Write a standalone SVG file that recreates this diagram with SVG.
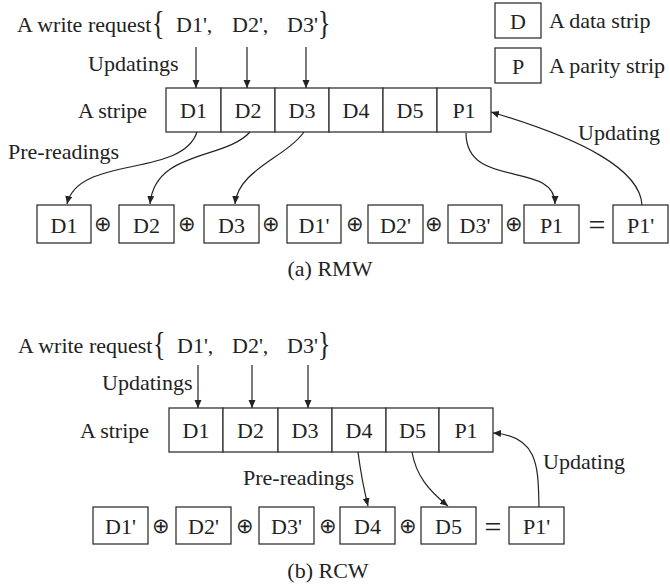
<svg xmlns="http://www.w3.org/2000/svg" width="670" height="588" viewBox="0 0 670 588">
  <style>
    text { font-family: "Liberation Serif", "Times New Roman", serif; font-size: 22px; fill: #222; }
    .c { text-anchor: middle; }
    .brace { font-size: 26px; }
    .op { font-size: 21px; text-anchor: middle; }
    .eq { font-size: 30px; text-anchor: middle; }
    .box { fill: #fff; stroke: #333; stroke-width: 1.3; }
    .wire { fill: none; stroke: #222; stroke-width: 1.2; marker-end: url(#arrow); }
  </style>
  <defs>
    <marker id="arrow" markerUnits="userSpaceOnUse" markerWidth="9" markerHeight="8" refX="8" refY="3.5" orient="auto">
      <path d="M0,0 L8,3.5 L0,7 z" fill="#222"/>
    </marker>
  </defs>

  <!-- legend -->
  <g id="legend-data">
    <rect class="box" x="495" y="3" width="46" height="35"/>
    <text class="c" x="518" y="29">D</text>
    <text x="549" y="28">A data strip</text>
  </g>
  <g id="legend-parity">
    <rect class="box" x="495" y="48" width="46" height="35"/>
    <text class="c" x="518" y="74">P</text>
    <text x="549" y="73">A parity strip</text>
  </g>

  <!-- (a) RMW -->
  <g id="a-request">
    <text x="17" y="32">A write request</text>
    <text class="brace" transform="translate(152,34) scale(1,1.3)">{</text>
    <text x="176" y="32">D1',</text>
    <text x="232" y="32">D2',</text>
    <text x="287" y="32">D3'</text>
    <text class="brace" transform="translate(318,34) scale(1,1.3)">}</text>
  </g>
  <text x="88" y="71">Updatings</text>
  <text x="78" y="118">A stripe</text>

  <g id="a-stripe">
    <rect class="box" x="166" y="88" width="55" height="44"/><text class="c" x="193.5" y="118">D1</text>
    <rect class="box" x="221" y="88" width="54" height="44"/><text class="c" x="248" y="118">D2</text>
    <rect class="box" x="275" y="88" width="54" height="44"/><text class="c" x="302" y="118">D3</text>
    <rect class="box" x="329" y="88" width="54" height="44"/><text class="c" x="356" y="118">D4</text>
    <rect class="box" x="383" y="88" width="54" height="44"/><text class="c" x="410" y="118">D5</text>
    <rect class="box" x="437" y="88" width="54" height="44"/><text class="c" x="464" y="118">P1</text>
  </g>

  <g id="a-row">
    <rect class="box" x="37" y="205" width="54" height="38"/><text class="c" x="64" y="233">D1</text>
    <text class="op" x="103" y="231">⊕</text>
    <rect class="box" x="119" y="205" width="55" height="38"/><text class="c" x="146.5" y="233">D2</text>
    <text class="op" x="187" y="231">⊕</text>
    <rect class="box" x="204" y="205" width="55" height="38"/><text class="c" x="231.5" y="233">D3</text>
    <text class="op" x="271" y="231">⊕</text>
    <rect class="box" x="287" y="205" width="54" height="38"/><text class="c" x="314" y="233">D1'</text>
    <text class="op" x="355" y="231">⊕</text>
    <rect class="box" x="368" y="205" width="55" height="38"/><text class="c" x="395.5" y="233">D2'</text>
    <text class="op" x="434" y="231">⊕</text>
    <rect class="box" x="448" y="205" width="54" height="38"/><text class="c" x="475" y="233">D3'</text>
    <text class="op" x="514" y="231">⊕</text>
    <rect class="box" x="524" y="205" width="55" height="38"/><text class="c" x="551.5" y="233">P1</text>
    <text class="eq" x="597" y="235">=</text>
    <rect class="box" x="613" y="205" width="55" height="38"/><text class="c" x="640.5" y="233">P1'</text>
  </g>
  <text x="8" y="159">Pre-readings</text>
  <text x="578" y="140">Updating</text>
  <text class="c" x="330" y="276">(a) RMW</text>

  <g id="a-connectors">
    <path class="wire" d="M196,47 L196,88"/>
    <path class="wire" d="M247,47 L247,88"/>
    <path class="wire" d="M306,47 L306,88"/>
    <path class="wire" d="M197,132 C182,178 78,155 67,204"/>
    <path class="wire" d="M250,132 C225,160 155,150 150,204"/>
    <path class="wire" d="M304,132 C285,158 238,170 235,204"/>
    <path class="wire" d="M466,133 C466,190 555,160 555,204"/>
    <path class="wire" d="M642,205 C640,170 585,140 491,112"/>
  </g>

  <!-- (b) RCW -->
  <g id="b-request">
    <text x="18" y="353">A write request</text>
    <text class="brace" transform="translate(153,355) scale(1,1.3)">{</text>
    <text x="177" y="353">D1',</text>
    <text x="232" y="353">D2',</text>
    <text x="287" y="353">D3'</text>
    <text class="brace" transform="translate(318,355) scale(1,1.3)">}</text>
  </g>
  <text x="102" y="390">Updatings</text>
  <text x="80" y="438">A stripe</text>

  <g id="b-stripe">
    <rect class="box" x="169" y="408" width="54" height="44"/><text class="c" x="196" y="438">D1</text>
    <rect class="box" x="223" y="408" width="55" height="44"/><text class="c" x="250.5" y="438">D2</text>
    <rect class="box" x="278" y="408" width="54" height="44"/><text class="c" x="305" y="438">D3</text>
    <rect class="box" x="332" y="408" width="54" height="44"/><text class="c" x="359" y="438">D4</text>
    <rect class="box" x="386" y="408" width="53" height="44"/><text class="c" x="412.5" y="438">D5</text>
    <rect class="box" x="439" y="408" width="54" height="44"/><text class="c" x="466" y="438">P1</text>
  </g>

  <g id="b-row">
    <rect class="box" x="93" y="507" width="55" height="37"/><text class="c" x="120.5" y="534">D1'</text>
    <text class="op" x="161" y="533">⊕</text>
    <rect class="box" x="176" y="507" width="55" height="37"/><text class="c" x="203.5" y="534">D2'</text>
    <text class="op" x="245" y="533">⊕</text>
    <rect class="box" x="259" y="507" width="55" height="37"/><text class="c" x="286.5" y="534">D3'</text>
    <text class="op" x="328" y="533">⊕</text>
    <rect class="box" x="340" y="507" width="55" height="37"/><text class="c" x="367.5" y="534">D4</text>
    <text class="op" x="408" y="533">⊕</text>
    <rect class="box" x="421" y="507" width="55" height="37"/><text class="c" x="448.5" y="534">D5</text>
    <text class="eq" x="493" y="537">=</text>
    <rect class="box" x="509" y="507" width="55" height="37"/><text class="c" x="536.5" y="534">P1'</text>
  </g>
  <text x="243" y="485">Pre-readings</text>
  <text x="543" y="469">Updating</text>
  <text class="c" x="328" y="578">(b) RCW</text>

  <g id="b-connectors">
    <path class="wire" d="M198,365 L198,408"/>
    <path class="wire" d="M252,365 L252,408"/>
    <path class="wire" d="M308,365 L308,408"/>
    <path class="wire" d="M358,452 C361,475 364,490 368,506"/>
    <path class="wire" d="M412,452 C416,475 428,490 448,506"/>
    <path class="wire" d="M539,507 C538,470 540,436 493,433"/>
  </g>
</svg>
